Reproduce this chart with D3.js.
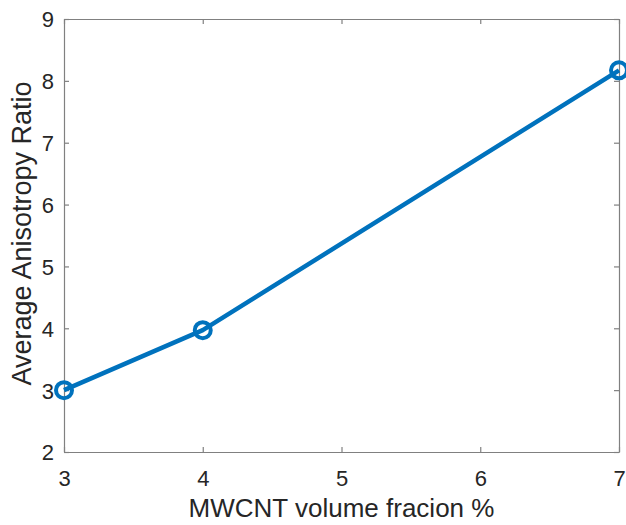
<!DOCTYPE html>
<html>
<head>
<meta charset="utf-8">
<script src="https://cdn.jsdelivr.net/npm/d3@7"></script>
<style>
  body { margin: 0; background: #fff; }
  svg { display: block; }
</style>
</head>
<body>
<div id="chart"></div>
<script>
// data
const volumeFraction = [3, 4, 7];
const anisotropyRatio = [3.0, 3.97, 8.17];
const xTicks = [3, 4, 5, 6, 7];
const yTicks = [2, 3, 4, 5, 6, 7, 8, 9];

const width = 626;
const height = 525;
const margin = { top: 19, right: 7, bottom: 73, left: 64 };
const innerW = width - margin.left - margin.right;
const innerH = height - margin.top - margin.bottom;

const svg = d3.select("#chart")
  .append("svg")
  .attr("width", width)
  .attr("height", height)
  .style("font-family", "'Liberation Sans', Arial, sans-serif");

const chart = svg.append("g")
  .attr("transform", `translate(${margin.left},${margin.top})`);

const x = d3.scaleLinear().domain([3, 7]).range([0, innerW]);
const y = d3.scaleLinear().domain([2, 9]).range([innerH, 0]);

const axisColor = "#808080";
const textColor = "#262626";
const tickLen = 5;
const fmt = d3.format("d");

// bottom / left axes with inward ticks
const xAxis = chart.append("g")
  .attr("transform", `translate(0,${innerH})`)
  .call(d3.axisBottom(x).tickValues(xTicks).tickFormat(fmt)
    .tickSizeInner(-tickLen).tickSizeOuter(0).tickPadding(18));
const yAxis = chart.append("g")
  .call(d3.axisLeft(y).tickValues(yTicks).tickFormat(fmt)
    .tickSizeInner(-tickLen).tickSizeOuter(0).tickPadding(10));

// top / right mirrored ticks
const xTop = chart.append("g")
  .call(d3.axisTop(x).tickValues(xTicks).tickSizeInner(-tickLen).tickSizeOuter(0).tickFormat(""));
const yRight = chart.append("g")
  .attr("transform", `translate(${innerW},0)`)
  .call(d3.axisRight(y).tickValues(yTicks).tickSizeInner(-tickLen).tickSizeOuter(0).tickFormat(""));

[xAxis, yAxis, xTop, yRight].forEach((g) => {
  g.select(".domain").attr("stroke", axisColor).attr("stroke-width", 1.2);
  g.selectAll(".tick line").attr("stroke", axisColor).attr("stroke-width", 1.2);
  g.selectAll(".tick text")
    .attr("fill", textColor)
    .style("font-size", "22px");
});

xAxis.selectAll(".tick text").attr("dy", "0.71em");
yAxis.selectAll(".tick text").attr("dy", "0.36em");

// axis labels
svg.append("text")
  .attr("x", margin.left + innerW / 2)
  .attr("y", 517)
  .attr("text-anchor", "middle")
  .attr("fill", textColor)
  .style("font-size", "26px")
  .text("MWCNT volume fracion %");

svg.append("text")
  .attr("transform", `translate(31,${margin.top + innerH / 2 - 2}) rotate(-90)`)
  .attr("text-anchor", "middle")
  .attr("fill", textColor)
  .style("font-size", "27px")
  .text("Average Anisotropy Ratio");

// series
const points = volumeFraction.map((v, i) => [v, anisotropyRatio[i]]);
const line = d3.line()
  .x((d) => x(d[0]))
  .y((d) => y(d[1]));

const lineColor = "#0072BD";

chart.append("path")
  .datum(points)
  .attr("fill", "none")
  .attr("stroke", lineColor)
  .attr("stroke-width", 4.5)
  .attr("stroke-linejoin", "round")
  .attr("d", line);

chart.selectAll("circle.marker")
  .data(points)
  .join("circle")
  .attr("class", "marker")
  .attr("cx", (d) => x(d[0]))
  .attr("cy", (d) => y(d[1]))
  .attr("r", 8)
  .attr("fill", "none")
  .attr("stroke", lineColor)
  .attr("stroke-width", 4);
</script>
</body>
</html>
